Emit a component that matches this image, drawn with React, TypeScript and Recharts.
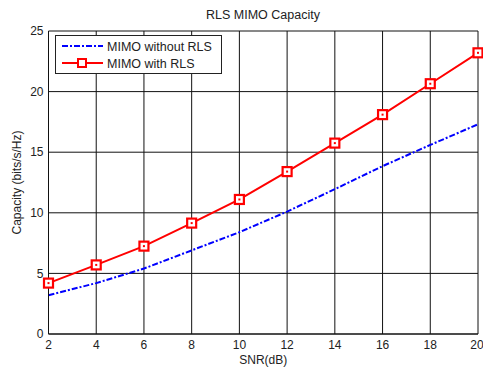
import React from 'react';
import { LineChart, Line, XAxis, YAxis, CartesianGrid, Legend } from 'recharts';

const snr = [2, 4, 6, 8, 10, 12, 14, 16, 18, 20];
const withoutRls = [3.2, 4.2, 5.4, 6.9, 8.4, 10.1, 11.95, 13.85, 15.6, 17.3];
const withRls = [4.2, 5.7, 7.25, 9.15, 11.1, 13.4, 15.75, 18.1, 20.65, 23.2];
const xTicks = [2, 4, 6, 8, 10, 12, 14, 16, 18, 20];
const yTicks = [0, 5, 10, 15, 20, 25];
const seriesNames = ['MIMO without RLS', 'MIMO with RLS'];
const title = 'RLS MIMO Capacity';

const data = snr.map((x, i) => ({ snr: x, a: withoutRls[i], b: withRls[i] }));

const FONT = '"Liberation Sans", Arial, sans-serif';

const SquareDot = (props: any) => {
  const { cx, cy } = props;
  if (cx == null || cy == null) return null;
  return (
    <g>
      <rect x={cx - 4.5} y={cy - 4.5} width={9} height={9} fill="#fff" stroke="#ff0000" strokeWidth={2.2} />
      <rect x={cx - 1} y={cy - 1} width={2} height={2} fill="#ff0000" />
    </g>
  );
};

const LegendBox = () => (
  <svg width={167} height={39} style={{ display: 'block' }}>
    <rect x={0.5} y={0.5} width={166} height={38} fill="#fff" stroke="#222" strokeWidth={1} />
    <line x1={7} y1={11} x2={48} y2={11} stroke="#0000ff" strokeWidth={2} strokeDasharray="6 2 2 2" />
    <text x={52} y={15.5} fontFamily={FONT} fontSize={12.5} fill="#222">{seriesNames[0]}</text>
    <line x1={7} y1={28} x2={48} y2={28} stroke="#ff0000" strokeWidth={2} />
    <rect x={23} y={24} width={8} height={8} fill="#fff" stroke="#ff0000" strokeWidth={2} />
    <text x={52} y={32.5} fontFamily={FONT} fontSize={12.5} fill="#222">{seriesNames[1]}</text>
  </svg>
);

export default function App() {
  return (
    <div style={{ position: 'absolute', left: 0, top: 0, width: 483, height: 367, background: '#fff' }}>
      <div style={{ position: 'absolute', left: 48, width: 430, top: 8, textAlign: 'center', fontFamily: FONT, fontSize: 12.5, color: '#222' }}>
        {title}
      </div>
      <LineChart width={483} height={367} data={data} margin={{ top: 31, right: 5, left: 8, bottom: 0 }}>
        <CartesianGrid stroke="#111" strokeWidth={1} horizontal vertical />
        <XAxis
          dataKey="snr"
          type="number"
          domain={[2, 20]}
          ticks={xTicks}
          height={33}
          tickLine={false}
          tickSize={4}
          tickMargin={2}
          axisLine={{ stroke: '#111' }}
          tick={{ fontFamily: FONT, fontSize: 12, fill: '#222' }}
          label={{ value: 'SNR(dB)', position: 'insideBottom', offset: 3, style: { fontFamily: FONT, fontSize: 12, fill: '#222' } }}
        />
        <YAxis
          type="number"
          domain={[0, 25]}
          ticks={yTicks}
          width={40.5}
          tickLine={false}
          tickSize={4}
          tickMargin={1}
          axisLine={{ stroke: '#111' }}
          tick={{ fontFamily: FONT, fontSize: 12, fill: '#222' }}
          label={{ value: 'Capacity (bits/s/Hz)', angle: -90, position: 'insideLeft', offset: 9, style: { fontFamily: FONT, fontSize: 12, fill: '#222', textAnchor: 'middle' } }}
        />
        <Legend
          verticalAlign="middle"
          align="center"
          layout="horizontal"
          wrapperStyle={{ left: 55, top: 35, width: 167, height: 39 }}
          content={() => <LegendBox />}
        />
        <Line type="linear" dataKey="a" stroke="#0000ff" strokeWidth={2} strokeDasharray="6 2 2 2" dot={false} isAnimationActive={false} />
        <Line type="linear" dataKey="b" stroke="#ff0000" strokeWidth={2} dot={<SquareDot />} isAnimationActive={false} />
      </LineChart>
    </div>
  );
}
